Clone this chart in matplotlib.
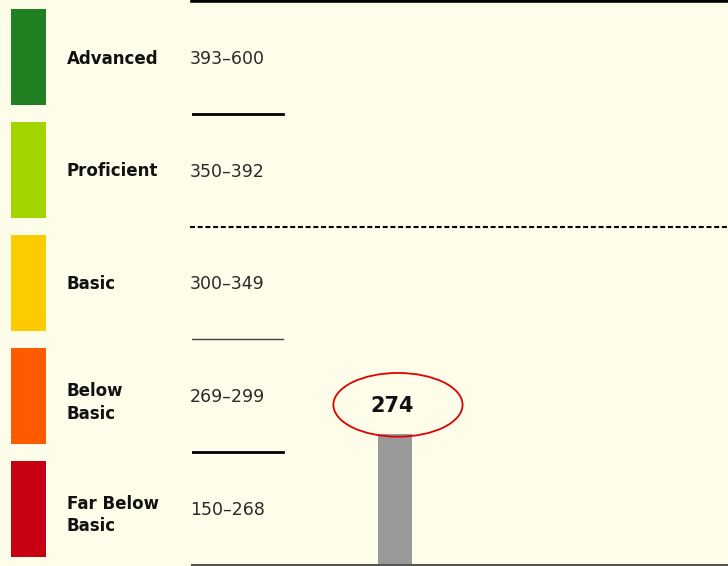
import matplotlib.pyplot as plt
from matplotlib.patches import Ellipse
import numpy as np

# performance levels, bottom to top
levels = ["Far Below\nBasic", "Below\nBasic", "Basic", "Proficient", "Advanced"]
ranges = ["150–268", "269–299", "300–349", "350–392", "393–600"]
level_colors = ["#c70012", "#ff5a00", "#fccb00", "#a2d400", "#1f7f21"]
band_edges = [150, 269, 300, 350, 393, 600]

score = 274
score_label = "274"

bg = "#fefdea"

# every band gets the same height on screen, whatever its score span
pos = np.arange(len(band_edges))
ext_x = np.r_[band_edges[0] - 10000, band_edges, band_edges[-1] + 10000]
ext_y = np.r_[-10000 / (band_edges[1] - band_edges[0]), pos,
              pos[-1] + 10000 / (band_edges[-1] - band_edges[-2])]


def forward(v):
    return np.interp(v, ext_x, ext_y)


def inverse(v):
    return np.interp(v, ext_y, ext_x)


fig = plt.figure(figsize=(7.28, 5.66), dpi=100)
fig.patch.set_facecolor(bg)

W, H = 728.0, 566.0
bottom = 1.0 / H
height = 564.0 / H

# main chart
ax = fig.add_axes([192 / W, bottom, 536 / W, height])
ax.patch.set_alpha(0)
ax.set_yscale("function", functions=(forward, inverse))
ax.set_ylim(band_edges[0], band_edges[-1])
ax.set_xlim(0, 1)
for s in ax.spines.values():
    s.set_visible(False)
ax.set_xticks([])
ax.set_yticks([])
ax.minorticks_off()

ax.bar([0.379], [score - band_edges[0]], bottom=band_edges[0], width=0.064,
       color="#999999")

# cut lines between levels
ax.axhline(band_edges[-1], color="black", lw=2.6, clip_on=False)
ax.axhline(393, xmin=0, xmax=0.17, color="black", lw=2.0)
ax.axhline(350, xmin=-0.004, xmax=1, color="black", lw=1.5,
           dashes=(2.4, 1.3), clip_on=False)
ax.axhline(300, xmin=0, xmax=0.17, color="#444444", lw=1.0)
ax.axhline(269, xmin=0, xmax=0.17, color="black", lw=2.0)
ax.axhline(band_edges[0], color="#555555", lw=1.5, clip_on=False)

# circled score
ax.add_patch(Ellipse((0.3843, 0.284), 0.241, 0.113, transform=ax.transAxes,
                     fill=False, edgecolor="#e00000", lw=1.3, clip_on=False))
ax.text(0.374, 0.282, score_label, transform=ax.transAxes, fontsize=15,
        fontweight="bold", color="#111111", ha="center", va="center")

# left key: coloured blocks, names and score ranges
key = fig.add_axes([0, bottom, 192 / W, height])
key.set_zorder(3)
key.set_xlim(0, 192)
key.set_ylim(0, len(levels))
key.axis("off")
key.bar(28.5, 0.85, width=35, bottom=np.arange(len(levels)) + 0.075,
        color=level_colors, align="center")
for i, (name, rng) in enumerate(zip(levels, ranges)):
    dy = -0.06 if "\n" in name else -0.01
    key.text(67, i + 0.5 + dy, name, fontsize=12, fontweight="bold",
             color="#111111", va="center", ha="left", linespacing=1.3)
    key.text(190, i + 0.487, rng, fontsize=12.5, color="#2a2a2a",
             va="center", ha="left", clip_on=False)

fig.savefig("out.png", dpi=100, facecolor=bg)
